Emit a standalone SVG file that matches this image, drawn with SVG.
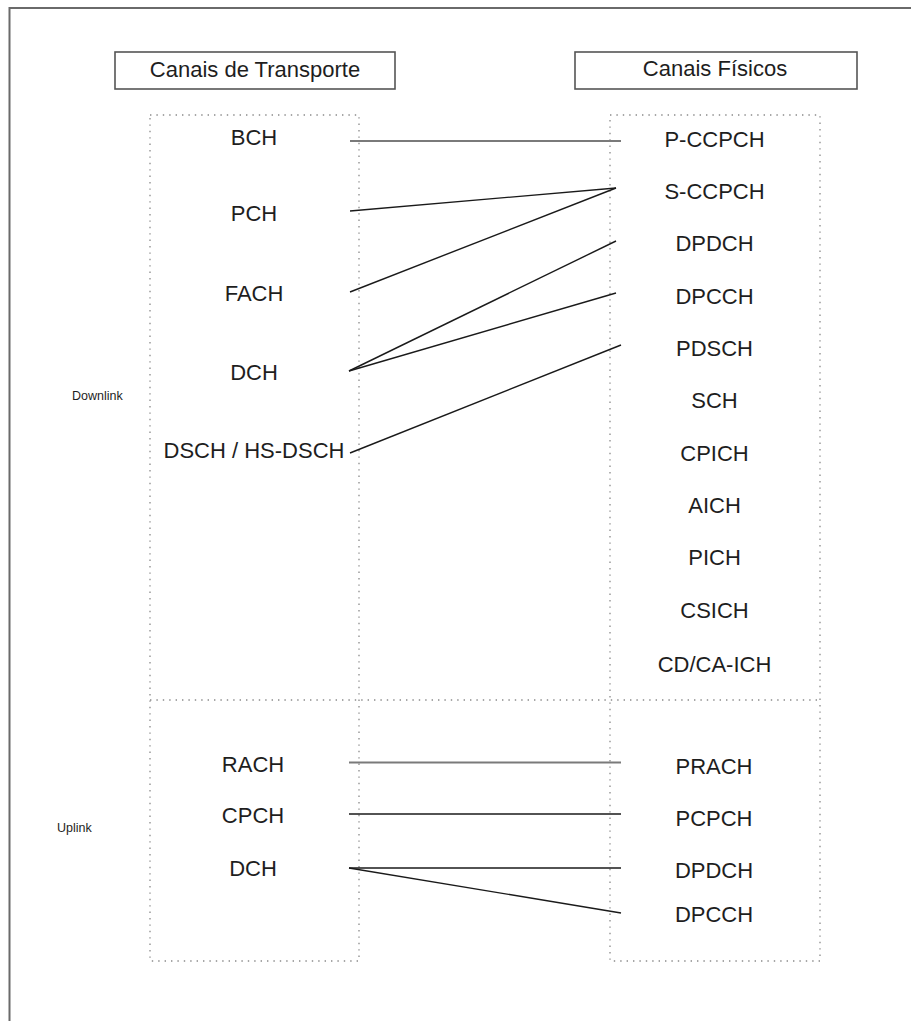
<svg xmlns="http://www.w3.org/2000/svg" width="911" height="1021" viewBox="0 0 911 1021">
  <style>
    text { font-family: "Liberation Sans", Arial, sans-serif; fill: #1e1e1e; }
    .ch { font-size: 22px; text-anchor: middle; }
    .hdr { font-size: 22px; text-anchor: middle; }
    .dir { font-size: 12.5px; }
    .hbox { fill: #ffffff; stroke: #555555; stroke-width: 1.6; }
    .dots { fill: none; stroke: #8a8a8a; stroke-width: 1.3; stroke-dasharray: 1.4 5; }
    .frame { fill: none; stroke: #6a6a6a; stroke-width: 2; }
    .link { stroke: #1a1a1a; stroke-width: 1.4; fill: none; }
    .link.thick { stroke: #7a7a7a; stroke-width: 2.2; }
  </style>

  <rect width="911" height="1021" fill="#ffffff"/>

  <!-- page frame (open to the right and bottom) -->
  <path class="frame" d="M9.5,1021 V8 H911"/>

  <!-- column headers -->
  <g id="hdr-transporte">
    <rect class="hbox" x="115" y="52" width="280" height="37"/>
    <text class="hdr" x="255" y="77">Canais de Transporte</text>
  </g>
  <g id="hdr-fisicos">
    <rect class="hbox" x="575" y="52" width="282" height="37"/>
    <text class="hdr" x="715" y="76">Canais Físicos</text>
  </g>

  <!-- dotted column frames and the downlink / uplink divider -->
  <g id="frames">
    <rect class="dots" x="150" y="115" width="209" height="846"/>
    <rect class="dots" x="610" y="115" width="210" height="846"/>
    <line class="dots" x1="150" y1="700" x2="820" y2="700"/>
  </g>

  <g id="lbl-downlink"><text class="dir" x="72" y="400">Downlink</text></g>
  <g id="lbl-uplink"><text class="dir" x="57" y="832">Uplink</text></g>

  <!-- transport channels, downlink -->
  <g id="t-bch"><text class="ch" x="254" y="145">BCH</text></g>
  <g id="t-pch"><text class="ch" x="254" y="221">PCH</text></g>
  <g id="t-fach"><text class="ch" x="254" y="301">FACH</text></g>
  <g id="t-dch-dl"><text class="ch" x="254" y="380">DCH</text></g>
  <g id="t-dsch"><text class="ch" x="254" y="458">DSCH / HS-DSCH</text></g>

  <!-- transport channels, uplink -->
  <g id="t-rach"><text class="ch" x="253" y="772">RACH</text></g>
  <g id="t-cpch"><text class="ch" x="253" y="823">CPCH</text></g>
  <g id="t-dch-ul"><text class="ch" x="253" y="876">DCH</text></g>

  <!-- physical channels, downlink -->
  <g id="p-pccpch"><text class="ch" x="714.5" y="147">P-CCPCH</text></g>
  <g id="p-sccpch"><text class="ch" x="714.5" y="199">S-CCPCH</text></g>
  <g id="p-dpdch-dl"><text class="ch" x="714.5" y="251">DPDCH</text></g>
  <g id="p-dpcch-dl"><text class="ch" x="714.5" y="304">DPCCH</text></g>
  <g id="p-pdsch"><text class="ch" x="714.5" y="356">PDSCH</text></g>
  <g id="p-sch"><text class="ch" x="714.5" y="408">SCH</text></g>
  <g id="p-cpich"><text class="ch" x="714.5" y="461">CPICH</text></g>
  <g id="p-aich"><text class="ch" x="714.5" y="513">AICH</text></g>
  <g id="p-pich"><text class="ch" x="714.5" y="565">PICH</text></g>
  <g id="p-csich"><text class="ch" x="714.5" y="618">CSICH</text></g>
  <g id="p-cdcaich"><text class="ch" x="714.5" y="672">CD/CA-ICH</text></g>

  <!-- physical channels, uplink -->
  <g id="p-prach"><text class="ch" x="714" y="774">PRACH</text></g>
  <g id="p-pcpch"><text class="ch" x="714" y="826">PCPCH</text></g>
  <g id="p-dpdch-ul"><text class="ch" x="714" y="878">DPDCH</text></g>
  <g id="p-dpcch-ul"><text class="ch" x="714" y="922">DPCCH</text></g>

  <!-- channel mappings -->
  <g id="connectors">
    <line class="link thick" x1="350" y1="141" x2="621" y2="141"/>
    <line class="link" x1="350" y1="211" x2="616" y2="188"/>
    <line class="link" x1="350" y1="292" x2="616" y2="188"/>
    <line class="link" x1="349" y1="371" x2="616" y2="241"/>
    <line class="link" x1="349" y1="371" x2="616" y2="293"/>
    <line class="link" x1="350" y1="453" x2="621" y2="345"/>

    <line class="link thick" x1="349" y1="762.5" x2="621" y2="762.5"/>
    <line class="link" x1="349" y1="814" x2="621" y2="814"/>
    <line class="link" x1="349" y1="868" x2="621" y2="868"/>
    <line class="link" x1="349" y1="868" x2="621" y2="913"/>
  </g>
</svg>
